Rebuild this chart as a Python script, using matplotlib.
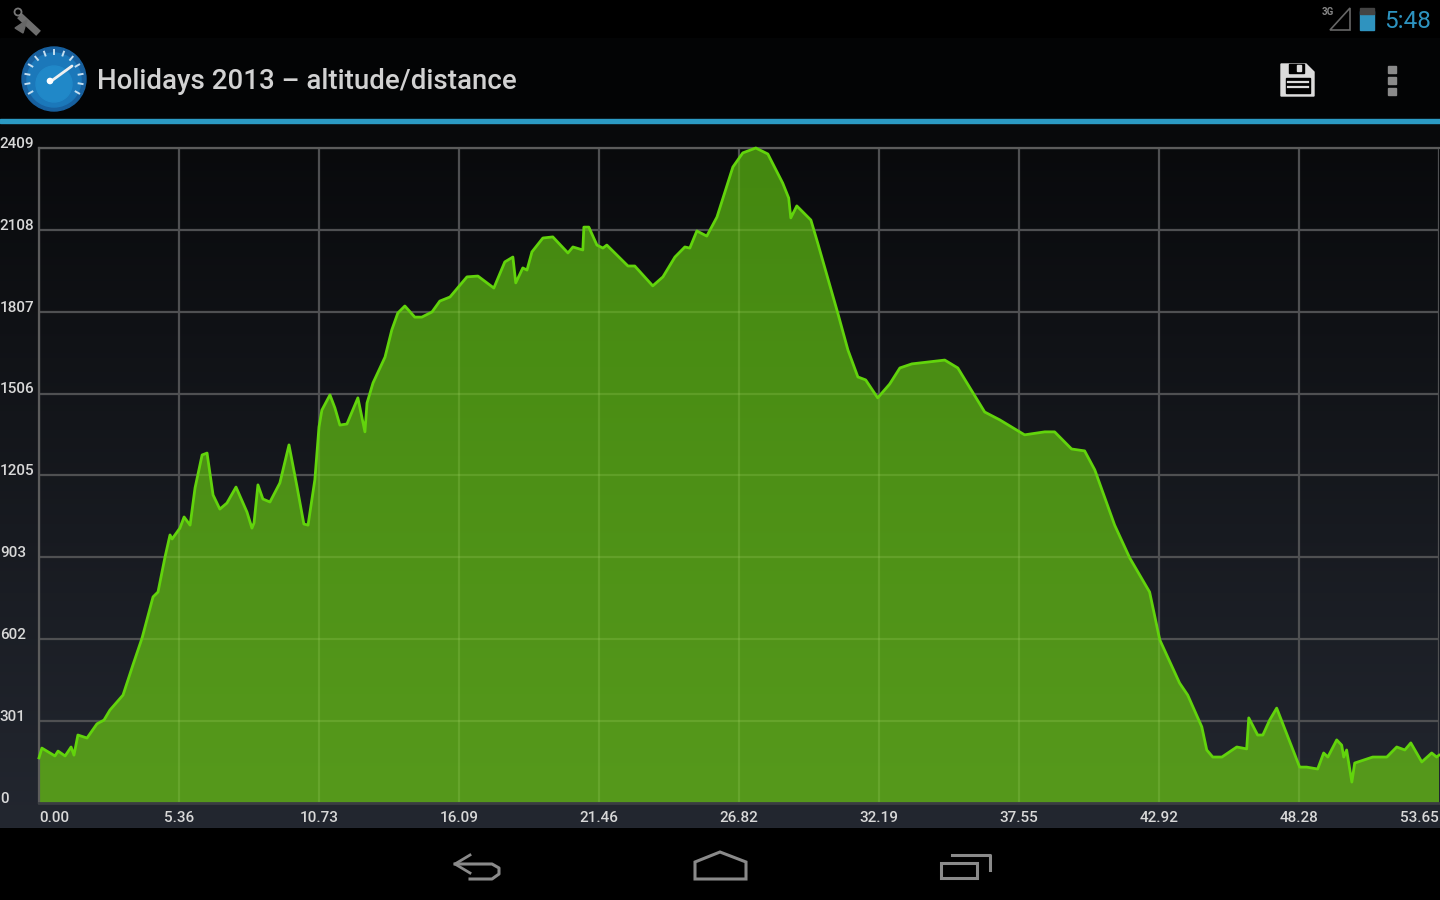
import numpy as np
import matplotlib
matplotlib.use('Agg')
import matplotlib.pyplot as plt
from matplotlib.patches import Circle, Polygon, Rectangle

plt.rcParams['font.family'] = ['Roboto', 'DejaVu Sans']

title = 'Holidays 2013 – altitude/distance'
clock = '5:48'

# km, metres
distance = [0, .11, .61, .73, 1.00, 1.23, 1.34, 1.49, 1.84, 2.22, 2.49, 2.72, 3.22, 3.60, 3.95, 4.37, 4.56, 4.83,
            5.02, 5.10, 5.40, 5.56, 5.79, 5.98, 6.25, 6.44, 6.67, 6.93, 7.20, 7.55, 7.97, 8.16, 8.24, 8.39, 8.58,
            8.85, 9.23, 9.58, 9.89, 10.15, 10.31, 10.57, 10.73, 10.84, 11.15, 11.34, 11.53, 11.80, 12.22, 12.49,
            12.57, 12.80, 13.26, 13.52, 13.75, 14.02, 14.40, 14.67, 15.06, 15.36, 15.75, 16.40, 16.82, 17.43,
            17.85, 18.16, 18.27, 18.54, 18.70, 18.89, 19.31, 19.69, 20.27, 20.46, 20.84, 20.88, 21.07, 21.38,
            21.61, 21.76, 22.57, 22.83, 23.52, 23.91, 24.37, 24.75, 24.94, 25.21, 25.59, 25.98, 26.59, 26.97,
            27.47, 27.93, 28.50, 28.73, 28.81, 29.04, 29.58, 29.84, 30.61, 31.00, 31.38, 31.68, 32.14, 32.60,
            32.99, 33.45, 34.71, 35.21, 36.24, 36.82, 37.77, 38.54, 38.92, 39.57, 40.07, 40.46, 41.22, 41.80,
            42.56, 42.95, 43.71, 44.02, 44.56, 44.75, 44.98, 45.33, 45.90, 46.28, 46.36, 46.70, 46.90, 47.16,
            47.43, 48.31, 48.58, 49.00, 49.23, 49.39, 49.73, 49.92, 50.00, 50.11, 50.31, 50.42, 51.11, 51.65,
            52.03, 52.34, 52.57, 52.99, 53.37, 53.56, 53.65]
altitude = [166, 202, 173, 191, 173, 206, 176, 250, 239, 291, 305, 342, 397, 508, 607, 758, 776, 905,
            986, 971, 1011, 1052, 1022, 1159, 1280, 1287, 1133, 1081, 1103, 1162, 1070, 1011, 1030, 1170, 1118,
            1107, 1177, 1317, 1162, 1026, 1022, 1188, 1383, 1445, 1501, 1453, 1390, 1394, 1490, 1365,
            1471, 1545, 1640, 1740, 1802, 1828, 1787, 1787, 1806, 1846, 1861, 1935, 1938, 1894,
            1990, 2008, 1913, 1968, 1960, 2027, 2078, 2082, 2023, 2045, 2034, 2118, 2118, 2052,
            2041, 2052, 1975, 1975, 1902, 1935, 2008, 2045, 2041, 2104, 2085, 2155, 2339, 2391,
            2409, 2387, 2280, 2225, 2152, 2196, 2144, 2060, 1802, 1666, 1567, 1556, 1490, 1541,
            1600, 1615, 1629, 1600, 1438, 1409, 1354, 1365, 1365, 1302, 1295, 1225, 1022, 901,
            776, 600, 441, 397, 280, 195, 169, 169, 206, 199, 313, 250, 250, 305,
            349, 132, 132, 125, 184, 169, 232, 213, 169, 195, 77, 147, 169, 169,
            206, 195, 221, 151, 184, 169, 176]

x_ticks = [0.00, 5.36, 10.73, 16.09, 21.46, 26.82, 32.19, 37.55, 42.92, 48.28, 53.65]
y_ticks = [0, 301, 602, 903, 1205, 1506, 1807, 2108, 2409]

fig = plt.figure(figsize=(14.4, 9), dpi=100, facecolor='black')

# screen chrome, in pixels
bg = fig.add_axes([0, 0, 1, 1], zorder=0)
bg.axis('off')
bg.add_patch(Rectangle((0, 0), 1440, 900, color='#000000', zorder=0))
bg.add_patch(Rectangle((0, 38), 1440, 80, color='#030405', zorder=0))
top_rgb = np.array([8, 9, 11])
low_rgb = np.array([35, 39, 48])
grad = np.linspace(0, 1, 256)[:, None, None] * (low_rgb - top_rgb) + top_rgb
bg.imshow(grad.astype(np.uint8), extent=(0, 1440, 828, 123), aspect='auto', zorder=1)
bg.set_xlim(0, 1440)
bg.set_ylim(900, 0)
bg.add_patch(Rectangle((0, 119), 1440, 4, color='#2b9ac4', zorder=2))

# gauge icon
bg.add_patch(Circle((54, 79), 32, color='#17609f', zorder=3))
bg.add_patch(Circle((54, 80), 27, color='#1b78ba', zorder=3))
bg.add_patch(Circle((54, 84), 18, color='#2088c8', zorder=3))
for a in np.radians(np.arange(-30, 211, 20)):
    bg.plot([54 + 25 * np.cos(a), 54 + 29 * np.cos(a)], [79 - 25 * np.sin(a), 79 - 29 * np.sin(a)],
            color='#c4def0', lw=1.4, zorder=4)
bg.plot([50, 72], [82, 66], color='#f0f0f0', lw=2, zorder=5, solid_capstyle='round')
bg.add_patch(Circle((50, 81), 2.6, color='white', zorder=5))

# satellite icon
bg.plot([22, 36], [18, 31], color='#6e6e6e', lw=5, zorder=3)
bg.add_patch(Circle((18, 12), 3.5, fill=False, ec='#777777', lw=1.3, zorder=3))
bg.add_patch(Polygon([[15, 28], [27, 20], [23, 33]], closed=True, color='#666666', zorder=3))

# signal and battery
bg.add_patch(Polygon([[1350, 8], [1350, 30], [1330, 30]], closed=True, fill=False, ec='#666666', lw=1.2, zorder=3))
bg.text(1322, 12, '3G', color='#888888', fontsize=7, fontweight='bold', va='center', zorder=3)
bg.add_patch(Rectangle((1360, 11), 14, 19, color='#2f93bf', zorder=3))
bg.add_patch(Rectangle((1360, 8), 14, 6, color='#444444', zorder=3))
bg.text(1431, 21.5, clock, color='#2d93c0', fontsize=17.5, ha='right', va='center', zorder=3)

# title and action bar icons
bg.text(97, 81.5, title, color='#d2d2d2', fontsize=19.9, fontweight='medium', va='center', zorder=3)
bg.add_patch(Polygon([[1281, 64], [1306, 64], [1314, 72], [1314, 96], [1281, 96]], closed=True,
                     color='#dcdcdc', zorder=3))
bg.add_patch(Rectangle((1289, 64), 15, 9, color='black', zorder=4))
bg.add_patch(Rectangle((1297, 65), 4, 6, color='#dcdcdc', zorder=5))
bg.add_patch(Rectangle((1286, 78), 24, 15, color='black', zorder=4))
for yy in [82, 87]:
    bg.plot([1288, 1308], [yy, yy], color='#dcdcdc', lw=1.6, zorder=5)
for yy in [69, 80, 91]:
    bg.add_patch(Rectangle((1388, yy - 3.5), 8, 7, color='#8a8a8a', zorder=3))

# nav buttons
nav = '#8a8a8a'
bg.plot([470, 455, 470], [855, 864, 873], color=nav, lw=2, zorder=3)
bg.plot([455, 492, 499, 499, 492, 470], [864, 864, 868, 874, 879, 879], color=nav, lw=2.2, zorder=3)
bg.add_patch(Polygon([[695, 862], [720, 852], [746, 862], [746, 879], [695, 879]], closed=True, fill=False,
                     ec=nav, lw=2.2, zorder=3))
bg.add_patch(Rectangle((941, 863), 36, 15, fill=False, ec=nav, lw=2.2, zorder=3))
bg.plot([952, 990, 990], [855, 855, 870], color=nav, lw=2.2, zorder=3)

# chart
ax = fig.add_axes([39 / 1440, 97 / 900, 1400 / 1440, 655 / 900], zorder=1)
ax.patch.set_alpha(0)

ax.set_xticks(x_ticks)
ax.set_yticks(y_ticks)
ax.grid(True, color='#4f5052', lw=1.6, zorder=0.5)
ax.set_axisbelow(True)

fill_top = np.array([68, 136, 16])
fill_low = np.array([86, 153, 28])
fill_grad = np.linspace(0, 1, 256)[:, None, None] * (fill_low - fill_top) + fill_top
im = ax.imshow(fill_grad.astype(np.uint8), extent=(0, 53.65, 0, 2409), aspect='auto', zorder=1)
poly = ax.fill_between(distance, 0, altitude, color='none', zorder=1)
clip = poly.get_paths()[0]
im.set_clip_path(clip, transform=ax.transData)

# grid shows through the fill as a faint lighter green
for v in x_ticks[1:-1]:
    ln = ax.axvline(v, color='#a6d66a', alpha=0.22, lw=1.6, zorder=2)
    ln.set_clip_path(clip, transform=ax.transData)
for v in y_ticks[1:-1]:
    ln = ax.axhline(v, color='#a6d66a', alpha=0.22, lw=1.6, zorder=2)
    ln.set_clip_path(clip, transform=ax.transData)

ax.plot(distance, altitude, color='#62d40c', lw=2, zorder=3, clip_on=False, solid_joinstyle='round')
ax.set_xlim(0, 53.65)
ax.set_ylim(0, 2409)

ax.spines['right'].set_visible(False)
for s in ['top', 'left']:
    ax.spines[s].set_color('#5c5c5c')
    ax.spines[s].set_linewidth(1.6)
ax.spines['bottom'].set_color('#3a3d42')
ax.spines['bottom'].set_linewidth(2)

ax.tick_params(length=0, labelleft=False, labelbottom=True, pad=6)
ax.set_xticklabels(['%.2f' % v for v in x_ticks], color='#d8d8d8', fontsize=11, fontweight='medium')
xl = ax.get_xticklabels()
xl[0].set_ha('left')
xl[-1].set_ha('right')

for v in y_ticks:
    ax.annotate(str(v), xy=(0, v), xycoords=ax.get_yaxis_transform(), xytext=(-28.2, 3),
                textcoords='offset points', ha='left', va='center', color='#d8d8d8', fontsize=11,
                fontweight='medium')

fig.savefig('out.png', dpi=100, facecolor='black')
